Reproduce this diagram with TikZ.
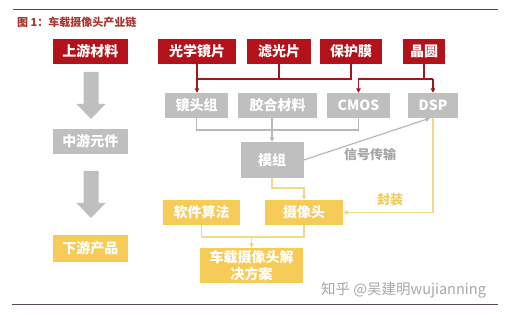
\documentclass[tikz,border=0pt]{standalone}
\usepackage{fontspec}
\setmainfont{Noto Sans CJK SC}
\usetikzlibrary{arrows.meta,calc}
\definecolor{cred}{HTML}{B4121A}
\definecolor{cgray}{HTML}{BFBFBF}
\definecolor{cyel}{HTML}{F6CB57}
\definecolor{lred}{HTML}{A3161B}
\definecolor{lgray}{HTML}{B8B8B8}
\definecolor{lyel}{HTML}{EFD98C}
\definecolor{ctitle}{HTML}{A8352E}
\definecolor{cline}{HTML}{5E4646}
\definecolor{tgray}{HTML}{A6A6A6}
\definecolor{tyel}{HTML}{F2CB55}
\definecolor{wmgray}{HTML}{A8A8A8}
\begin{document}
\begin{tikzpicture}[x=1pt,y=-1pt,
 box/.style={inner sep=0pt, minimum height=25pt, font=\fontsize{14}{17}\selectfont\bfseries, text=white},
 redb/.style={box, fill=cred},
 grayb/.style={box, fill=cgray},
 yelb/.style={box, fill=cyel},
 rl/.style={draw=lred, line width=1.4pt},
 gl/.style={draw=lgray, line width=1.2pt},
 yl/.style={draw=lyel, line width=1.2pt},
 tip/.style={-{Triangle[length=4.5pt,width=4.5pt]}},
 blockarrow/.style={fill=cgray},
]
\useasboundingbox (0,0) rectangle (507,315);
\fill[white] (0,0) rectangle (507,315);
% rules
\draw[cline, line width=0.9pt] (13,9) -- (498,9);
\draw[cline, line width=0.9pt] (12,304) -- (498,304);
% title
\node[anchor=west, text=ctitle, inner sep=0pt, font=\fontsize{11}{13}\selectfont\bfseries] (title) at (17,22) {图 1：车载摄像头产业链};
% left column
\node[redb, minimum width=75pt] (up) at (90.5,51.5) {上游材料};
\node[grayb, minimum width=75pt] (mid) at (90.5,141.5) {中游元件};
\node[yelb, minimum width=75pt, minimum height=27pt] (low) at (90.5,248.5) {下游产品};
\fill[blockarrow] (83.5,72) -- (98.5,72) -- (98.5,104) -- (105.5,104) -- (91,119) -- (76.5,104) -- (83.5,104) -- cycle;
\fill[blockarrow] (83.5,171) -- (98.5,171) -- (98.5,203) -- (105.5,203) -- (91,218) -- (76.5,203) -- (83.5,203) -- cycle;
% top row
\node[redb, minimum width=78pt] (g1) at (197,51.5) {光学镜片};
\node[redb, minimum width=64pt] (g2) at (279,51.5) {滤光片};
\node[redb, minimum width=62pt] (g3) at (351,51.5) {保护膜};
\node[redb, minimum width=42pt] (g4) at (424,51.5) {晶圆};
% second row
\node[grayb, minimum width=63pt] (m1) at (196.5,105.5) {镜头组};
\node[grayb, minimum width=79pt] (m2) at (277.5,105.5) {胶合材料};
\node[grayb, minimum width=63pt] (m3) at (358.5,105.5) {CMOS};
\node[grayb, minimum width=50pt] (m4) at (433,105.5) {DSP};
\node[grayb, minimum width=63pt, minimum height=36pt] (mod) at (272,160) {模组};
% yellow row
\node[yelb, minimum width=77pt] (y1) at (201.5,212.5) {软件算法};
\node[yelb, minimum width=78pt] (y2) at (304,212.5) {摄像头};
\node[yelb, minimum width=103pt, minimum height=35pt, align=center] (sol) at (251.5,265.5) {车载摄像头解\\决方案};
% red connectors
\coordinate (rbus) at (0,79);
\draw[rl] (g1.south) -- (g1.south |- rbus) -- (g3.south |- rbus) -- (g3.south);
\draw[rl] (g2.south) -- (g2.south |- rbus);
\draw[rl,tip] (g1.south |- rbus) -- (g1.south |- m1.north);
\draw[rl] (g4.south) -- (g4.south |- rbus);
\draw[rl,tip] (m4.north |- rbus) -- (m3.north |- rbus) -- (m3.north);
\draw[rl,tip] (m4.north |- rbus) -- (m4.north);
% gray connectors
\coordinate (gbus) at (0,130);
\draw[gl] (m1.south) -- (m1.south |- gbus) -- (m3.south |- gbus) -- (m3.south);
\draw[gl,tip] (mod.north |- m2.south) -- (mod.north);
\draw[gl,tip] (mod.east) -- ($(m4.south)+(-3,0)$);
\node[text=tgray, inner sep=0pt, font=\fontsize{13}{15}\selectfont\bfseries] (sig) at (370,155) {信号传输};
% yellow connectors
\coordinate (ybus1) at (0,188);
\draw[yl,tip] (mod.south) -- (mod.south |- ybus1) -- (y2.north |- ybus1) -- (y2.north);
\draw[yl,tip] (m4.south) -- (m4.south |- y2.east) -- (y2.east);
\node[text=tyel, inner sep=0pt, font=\fontsize{13}{15}\selectfont\bfseries] (pack) at (390,200) {封装};
\coordinate (ybus2) at (0,237);
\draw[yl] (y1.south) -- (y1.south |- ybus2) -- (y2.south |- ybus2) -- (y2.south);
\draw[yl,tip] (sol.north |- ybus2) -- (sol.north);
% watermark
\node[anchor=west, text=wmgray, inner sep=0pt, font=\fontsize{14.5}{16}\selectfont] (wm) at (321,290) {知乎 @吴建明wujianning};
\end{tikzpicture}
\end{document}
